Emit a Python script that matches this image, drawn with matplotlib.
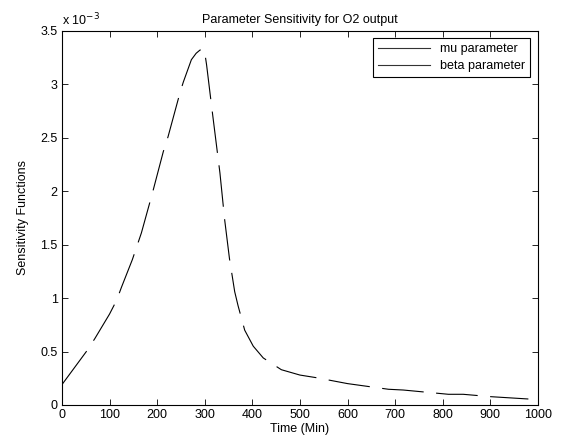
import numpy as np
import matplotlib
matplotlib.use('Agg')
import matplotlib.pyplot as plt
from matplotlib.lines import Line2D
from matplotlib.ticker import FuncFormatter

plt.rcParams['font.family'] = ['Liberation Sans', 'DejaVu Sans']
plt.rcParams['lines.scale_dashes'] = False

# sensitivity of O2 output
time_min = [0, 53, 69, 100, 115, 125, 148, 167, 190, 213, 223, 248, 255, 272,
            282, 290, 299, 304, 316, 332, 342, 352, 363, 370, 384, 402, 423,
            461, 500, 535, 600, 686, 717, 812, 843, 900, 980]
sens_e3 = [0.19, 0.51, 0.62, 0.85, 0.98, 1.10, 1.36, 1.61, 1.98, 2.37, 2.51,
           2.92, 3.02, 3.23, 3.29, 3.32, 3.33, 3.18, 2.74, 2.17, 1.73, 1.37,
           1.06, 0.93, 0.70, 0.55, 0.44, 0.33, 0.28, 0.255, 0.20, 0.147,
           0.14, 0.10, 0.10, 0.078, 0.056]
sens = np.array(sens_e3) * 1e-3
legend_labels = ['mu parameter', 'beta parameter']

fig = plt.figure(figsize=(5.68, 4.47), dpi=100)
ax = fig.add_axes([0.109, 0.094, 0.838, 0.837])

ax.plot(time_min, sens, color='black', lw=0.8, linestyle=(0, (30, 9)))

ax.set_xlim(0, 1000)
ax.set_ylim(0, 3.5e-3)
ax.set_xticks(np.arange(0, 1001, 100))
ax.set_yticks(np.arange(0, 3.51e-3, 0.5e-3))
ax.yaxis.set_major_formatter(FuncFormatter(lambda v, p: '%g' % round(v * 1e3, 3)))
ax.tick_params(direction='in', top=True, right=True, length=4, width=0.6,
               labelsize=9, pad=3)
for s in ax.spines.values():
    s.set_linewidth(0.8)

ax.text(0.0, 1.008, r'x 10$^{-3}$', transform=ax.transAxes, fontsize=9,
        ha='left', va='bottom')
ax.set_title('Parameter Sensitivity for O2 output', fontsize=9, pad=6)
ax.set_xlabel('Time (Min)', fontsize=9, labelpad=1)
ax.set_ylabel('Sensitivity Functions', fontsize=9, labelpad=8)

handles = [Line2D([], [], color='#333333', lw=0.8) for _ in legend_labels]
leg = ax.legend(handles, legend_labels, loc='upper right', fontsize=9,
                fancybox=False, framealpha=1, edgecolor='black',
                handlelength=4.2, borderaxespad=0.6, labelspacing=0.4)
leg.get_frame().set_linewidth(0.8)

fig.savefig('out.png', dpi=100)
